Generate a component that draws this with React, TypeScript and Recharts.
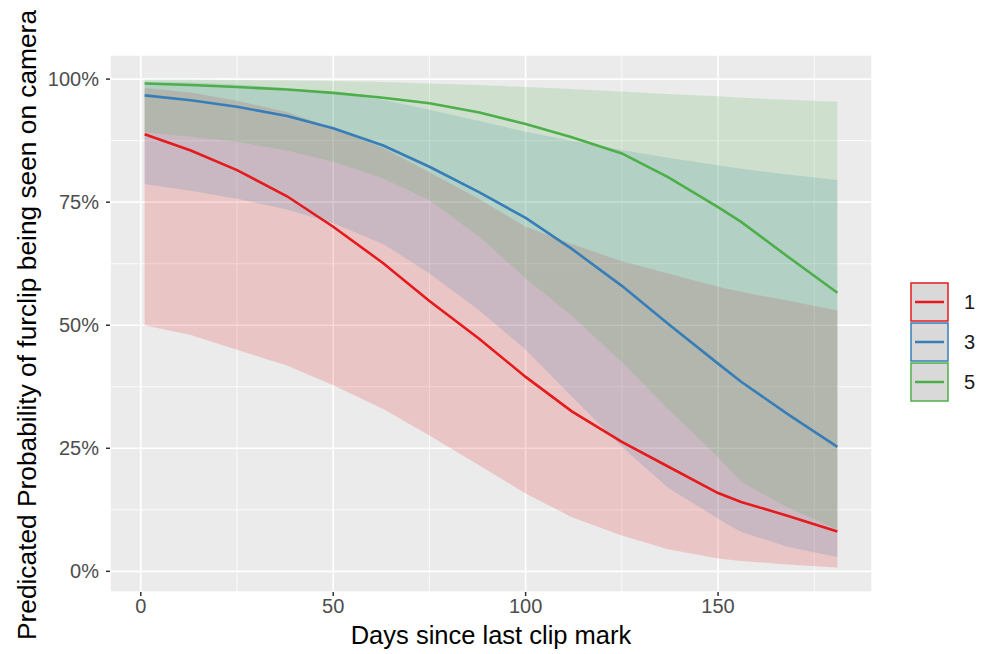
import React from 'react';
import { ComposedChart, Area, Line, XAxis, YAxis, CartesianGrid } from 'recharts';

// days since last clip mark
const days = [1, 13, 25, 38, 50, 63, 75, 88, 100, 112, 125, 137, 150, 156, 168, 181];

// predicted probability (%) with lower / upper CI, per group
const red = [88.8, 85.5, 81.5, 76.2, 70, 62.6, 54.9, 47.2, 39.5, 32.5, 26.3, 21.3, 15.9, 14.1, 11.3, 8.1];
const redLo = [50, 48, 45, 41.8, 37.8, 33, 27.6, 21.5, 15.8, 11, 7.3, 4.5, 2.6, 2.1, 1.4, 0.8];
const redHi = [98.2, 97.3, 95.6, 93.3, 90, 86, 81.1, 75.6, 70, 66.5, 63, 60.5, 57.8, 56.8, 55, 53];

const blue = [96.7, 95.7, 94.4, 92.5, 90, 86.5, 82.2, 77, 71.8, 65.5, 58, 50.3, 42.2, 38.5, 32, 25.3];
const blueLo = [78.7, 77.3, 75.7, 73.5, 70.7, 66.5, 60.5, 53, 45, 35.5, 25.3, 17, 10.7, 8, 5, 2.9];
const blueHi = [99.5, 99.3, 98.9, 98.2, 97.2, 95.8, 93.8, 91.5, 89.3, 87.5, 85.6, 84, 82.5, 81.8, 80.6, 79.5];

const green = [99.1, 98.8, 98.4, 97.9, 97.2, 96.2, 95.1, 93.2, 90.9, 88.2, 84.9, 80.1, 74, 71, 64, 56.6];
const greenLo = [89.2, 88.3, 87.3, 85.5, 83.2, 79.8, 75.4, 68, 59.5, 52, 42.5, 33, 23.2, 18.2, 13, 8.5];
const greenHi = [99.9, 99.9, 99.8, 99.7, 99.6, 99.4, 99.1, 98.8, 98.4, 98, 97.5, 97, 96.5, 96.2, 95.8, 95.4];

const xTicks = [0, 50, 100, 150];
const yTicks = [0, 25, 50, 75, 100];
const groups = [
  { key: '1', color: '#E41A1C' },
  { key: '3', color: '#377EB8' },
  { key: '5', color: '#4DAF4A' },
];

const data = days.map((d, i) => ({
  day: d,
  red: red[i], redBand: [redLo[i], redHi[i]],
  blue: blue[i], blueBand: [blueLo[i], blueHi[i]],
  green: green[i], greenBand: [greenLo[i], greenHi[i]],
}));

const font = '"Liberation Sans", Arial, sans-serif';

const LegendBox = () => (
  <div style={{ position: 'absolute', left: 910, top: 282, fontFamily: font }}>
    {groups.map(g => (
      <div key={g.key} style={{ display: 'flex', alignItems: 'center', height: 40 }}>
        <svg width={40} height={40}>
          <rect x={1} y={1} width={37} height={38} fill="#D9D9D9" stroke={g.color} strokeWidth={1.5} />
          <line x1={5} x2={34} y1={20} y2={20} stroke={g.color} strokeWidth={2.5} />
        </svg>
        <span style={{ marginLeft: 14, fontSize: 20, color: '#1a1a1a' }}>{g.key}</span>
      </div>
    ))}
  </div>
);

export default function App() {
  return (
    <div style={{ position: 'absolute', left: 0, top: 0, width: 990, height: 654, background: '#fff', fontFamily: font }}>
      <ComposedChart width={990} height={654} data={data} margin={{ top: 55, right: 118, bottom: 0, left: 0 }}>
        <CartesianGrid fill="#EBEBEB" stroke="#FFFFFF" strokeWidth={1.6} />
        <CartesianGrid fill="none" stroke="#FFFFFF" strokeWidth={0.8}
          horizontalValues={[12.5, 37.5, 62.5, 87.5]} verticalValues={[25, 75, 125, 175]} />
        <XAxis dataKey="day" type="number" domain={[-8, 190]} ticks={xTicks} allowDataOverflow
          height={62} axisLine={false} tickSize={4} tickMargin={3}
          tickLine={{ stroke: '#333333', strokeWidth: 1.5 }}
          tick={{ fill: '#4D4D4D', fontSize: 20, fontFamily: font }} />
        <YAxis type="number" domain={[-4.2, 104.9]} ticks={yTicks} allowDataOverflow
          width={110} axisLine={false} tickSize={4} tickMargin={7}
          tickFormatter={(v: number) => `${v}%`}
          tickLine={{ stroke: '#333333', strokeWidth: 1.5 }}
          tick={{ fill: '#4D4D4D', fontSize: 20, fontFamily: font }} />
        <Area type="linear" dataKey="redBand" fill="#E41A1C" fillOpacity={0.18} stroke="none" isAnimationActive={false} />
        <Area type="linear" dataKey="blueBand" fill="#377EB8" fillOpacity={0.18} stroke="none" isAnimationActive={false} />
        <Area type="linear" dataKey="greenBand" fill="#4DAF4A" fillOpacity={0.18} stroke="none" isAnimationActive={false} />
        <Line type="linear" dataKey="red" stroke="#E41A1C" strokeWidth={2.6} dot={false} isAnimationActive={false} />
        <Line type="linear" dataKey="blue" stroke="#377EB8" strokeWidth={2.6} dot={false} isAnimationActive={false} />
        <Line type="linear" dataKey="green" stroke="#4DAF4A" strokeWidth={2.6} dot={false} isAnimationActive={false} />
      </ComposedChart>
      <LegendBox />
      <div style={{ position: 'absolute', left: 0, right: 118, top: 621, textAlign: 'center', paddingLeft: 110, fontSize: 25.5, color: '#000' }}>
        Days since last clip mark
      </div>
      <div style={{ position: 'absolute', left: 27, top: 325, width: 0, height: 0 }}>
        <div style={{ position: 'absolute', transform: 'translate(-50%, -50%) rotate(-90deg)', whiteSpace: 'nowrap', fontSize: 26.3, color: '#000' }}>
          Predicated Probability of furclip being seen on camera
        </div>
      </div>
    </div>
  );
}
